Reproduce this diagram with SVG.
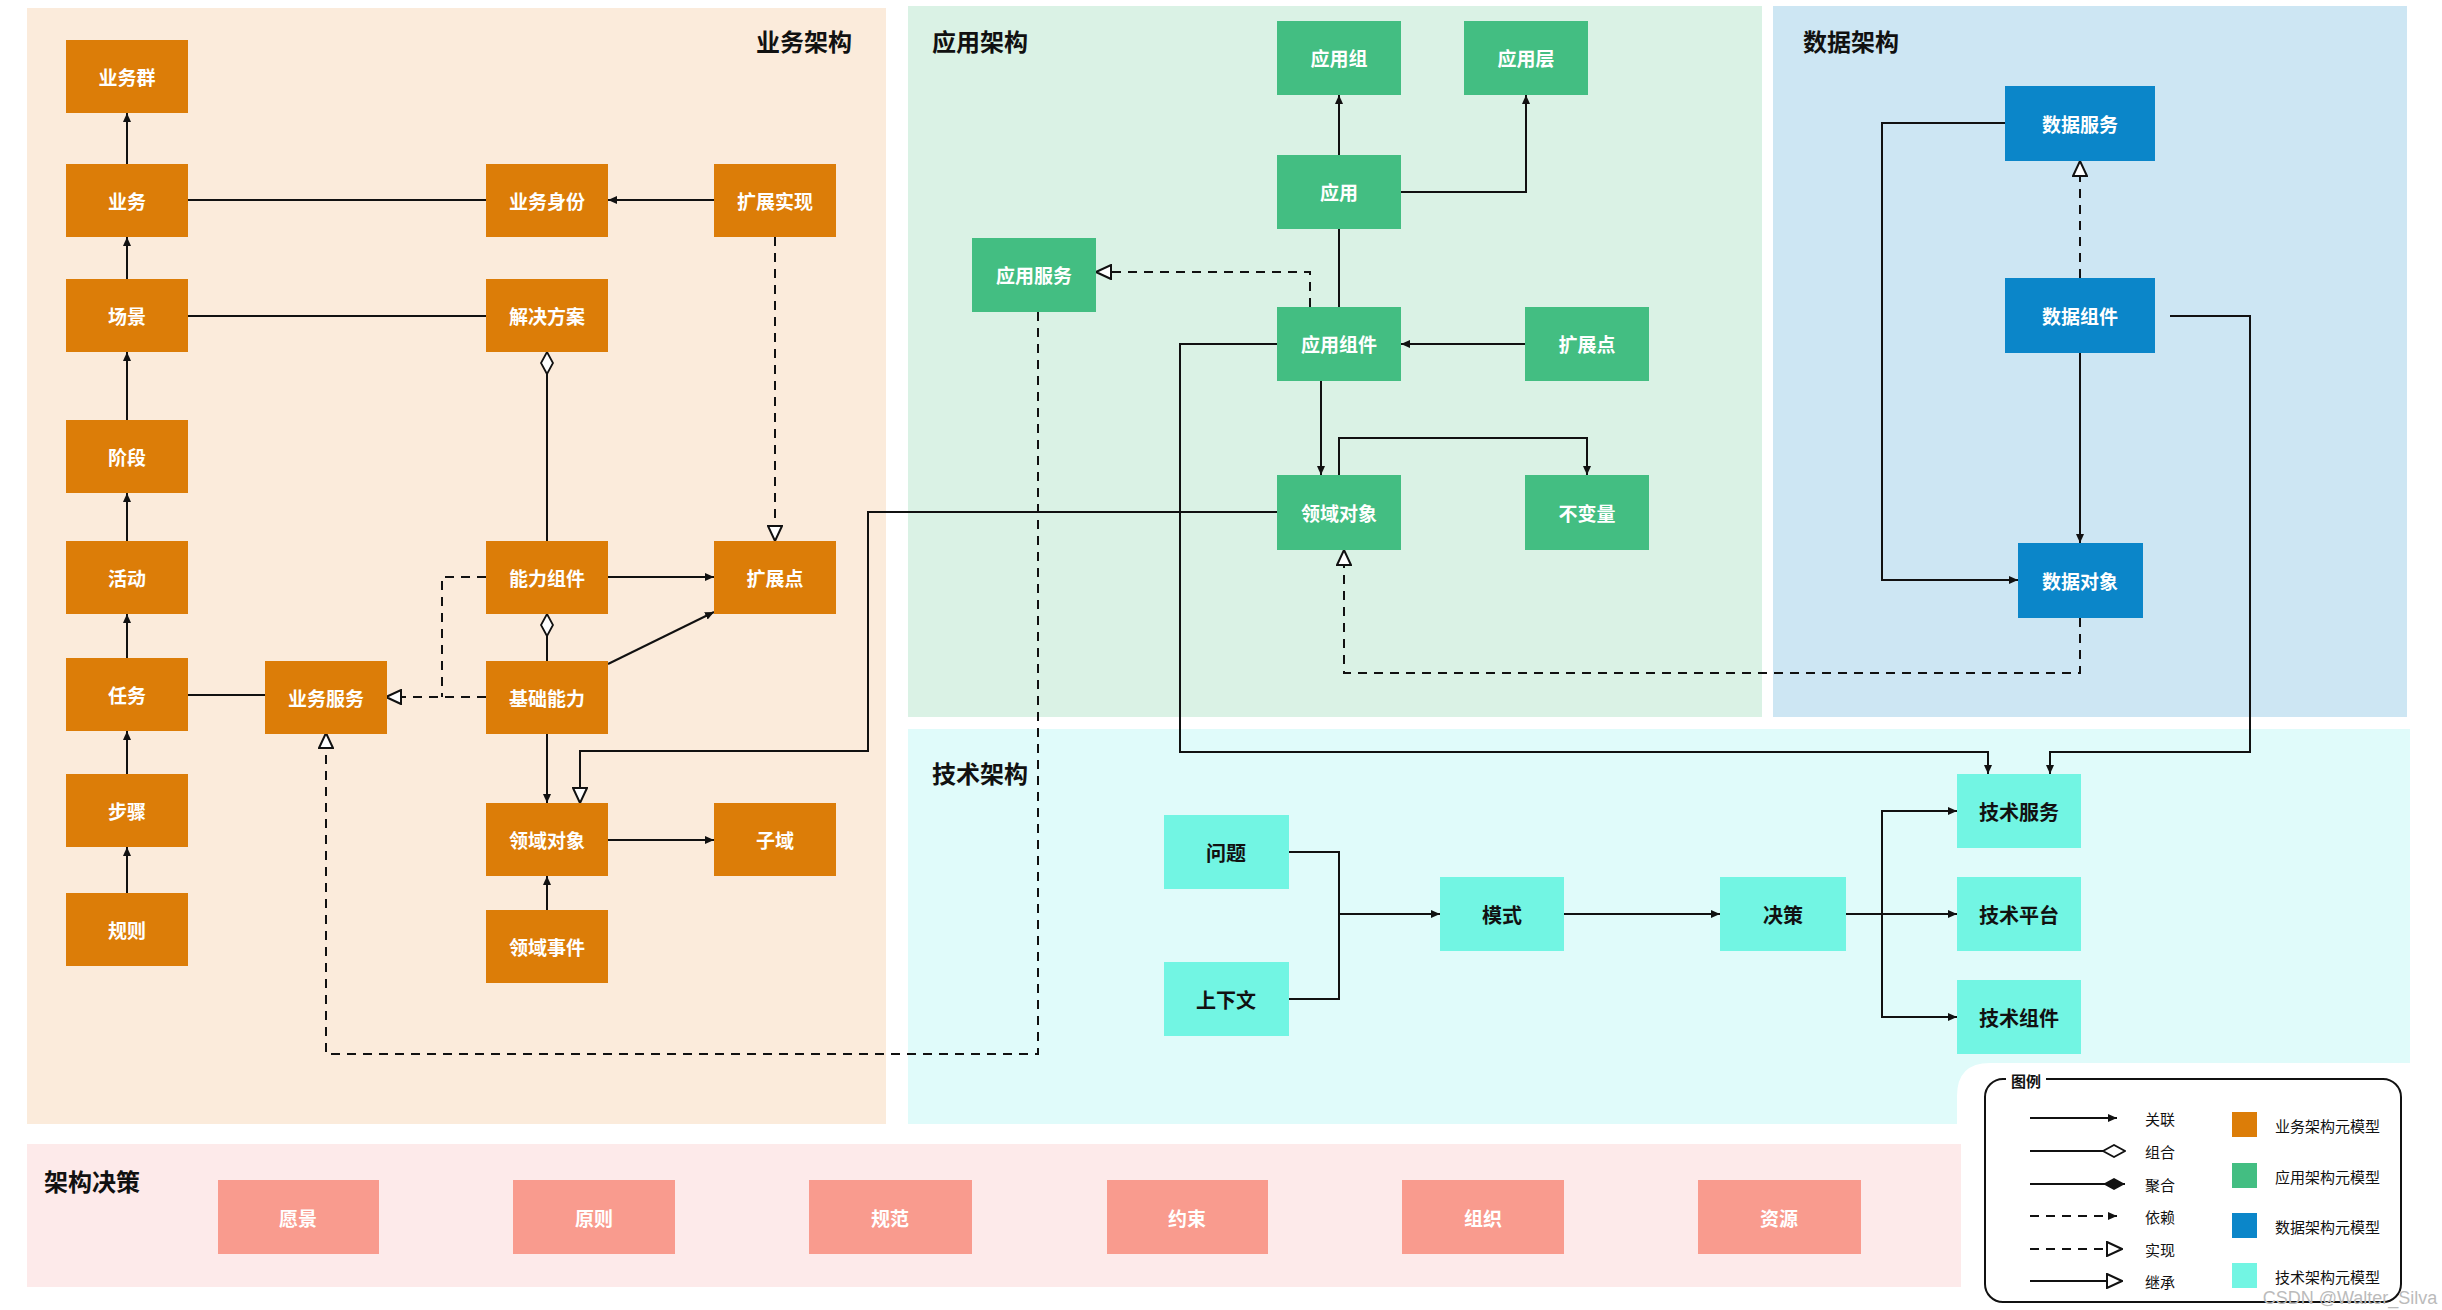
<svg xmlns="http://www.w3.org/2000/svg" width="2442" height="1310" viewBox="0 0 2442 1310">
<style>
text{font-family:"Noto Sans CJK SC","Liberation Sans",sans-serif;font-weight:bold;text-anchor:middle;dominant-baseline:central}
.b rect{fill:#dc7d08}.a rect{fill:#43be82}.d rect{fill:#0b86c9}.t rect{fill:#72f5e3}.j rect{fill:#f99b8e}
.b text,.a text,.d text,.j text{fill:#fff;font-size:19px}.t text{fill:#111;font-size:20px}
.title{font-size:24px;fill:#111;text-anchor:start}
#conn path,#conn line{fill:none;stroke:#111;stroke-width:2}
.dash{stroke-dasharray:9 7}
.lg{font-size:15px;font-weight:normal;fill:#111;text-anchor:start}
</style>
<defs>
<marker id="arr" markerUnits="userSpaceOnUse" markerWidth="10" markerHeight="8" refX="9" refY="4" orient="auto"><path d="M0,0 L9,4 L0,8 z" fill="#111"/></marker>
<marker id="tri" markerUnits="userSpaceOnUse" markerWidth="17" markerHeight="16" refX="16" refY="8" orient="auto"><path d="M1,1 L16,8 L1,15 z" fill="#fff" stroke="#111" stroke-width="2"/></marker>
<marker id="dia" markerUnits="userSpaceOnUse" markerWidth="24" markerHeight="14" refX="23" refY="7" orient="auto"><path d="M1,7 L12,1 L23,7 L12,13 z" fill="#fff" stroke="#111" stroke-width="1.8"/></marker>
<marker id="fdia" markerUnits="userSpaceOnUse" markerWidth="24" markerHeight="14" refX="23" refY="7" orient="auto"><path d="M1,7 L12,1 L23,7 L12,13 z" fill="#111"/></marker>
</defs>
<rect width="2442" height="1310" fill="#fff"/>
<rect x="27" y="8" width="859" height="1116" fill="#fbebdb"/>
<rect x="908" y="6" width="854" height="711" fill="#daf2e5"/>
<rect x="1773" y="6" width="634" height="711" fill="#cde6f3"/>
<path d="M908,729 H2410 V1063 H1990 Q1957,1063 1957,1096 V1124 H908 Z" fill="#e0fbfa"/>
<rect x="27" y="1144" width="1934" height="143" fill="#fdeaea"/>
<text class="title" x="756" y="40">业务架构</text>
<text class="title" x="932" y="40">应用架构</text>
<text class="title" x="1803" y="40">数据架构</text>
<text class="title" x="932" y="772">技术架构</text>
<text class="title" x="44" y="1180">架构决策</text>

<g id="conn">
<path d="M127,164 V113" marker-end="url(#arr)"/>
<path d="M127,279 V237" marker-end="url(#arr)"/>
<path d="M127,420 V352" marker-end="url(#arr)"/>
<path d="M127,541 V493" marker-end="url(#arr)"/>
<path d="M127,658 V614" marker-end="url(#arr)"/>
<path d="M127,774 V731" marker-end="url(#arr)"/>
<path d="M127,893 V847" marker-end="url(#arr)"/>
<path d="M188,200 H486"/>
<path d="M714,200 H608" marker-end="url(#arr)"/>
<path d="M188,316 H486"/>
<path d="M547,541 V352" marker-end="url(#dia)"/>
<path class="dash" d="M775,237 V541" marker-end="url(#tri)"/>
<path d="M608,577 H714" marker-end="url(#arr)"/>
<path d="M547,661 V614" marker-end="url(#dia)"/>
<path d="M608,664 L714,612" marker-end="url(#arr)"/>
<path class="dash" d="M486,697 H386" marker-end="url(#tri)"/>
<path class="dash" d="M486,577 H442 V697"/>
<path d="M188,695 H265"/>
<path d="M547,733 V803" marker-end="url(#arr)"/>
<path d="M714,840 H608" marker-end="url(#arr)" transform="rotate(180 661 840)"/>
<path d="M547,910 V876" marker-end="url(#arr)"/>
<path d="M1277,512 H868 V751 H580 V803" marker-end="url(#tri)"/>
<path class="dash" d="M1038,312 V1054 H326 V733" marker-end="url(#tri)"/>
<path d="M1339,155 V95" marker-end="url(#arr)"/>
<path d="M1401,192 H1526 V95" marker-end="url(#arr)"/>
<path d="M1339,307 V229"/>
<path class="dash" d="M1310,307 V272 H1096" marker-end="url(#tri)"/>
<path d="M1525,344 H1401" marker-end="url(#arr)"/>
<path d="M1321,381 V475" marker-end="url(#arr)"/>
<path d="M1339,475 V438 H1587 V475" marker-end="url(#arr)"/>
<path d="M1277,344 H1180 V752 H1988 V774" marker-end="url(#arr)"/>
<path class="dash" d="M2080,618 V673 H1344 V550" marker-end="url(#tri)"/>
<path class="dash" d="M2080,278 V161" marker-end="url(#tri)"/>
<path d="M2080,353 V543" marker-end="url(#arr)"/>
<path d="M2005,123 H1882 V580 H2018" marker-end="url(#arr)"/>
<path d="M2170,316 H2250 V752 H2050 V774" marker-end="url(#arr)"/>
<path d="M1289,852 H1339 V999 H1289"/>
<path d="M1339,914 H1440" marker-end="url(#arr)"/>
<path d="M1564,914 H1720" marker-end="url(#arr)"/>
<path d="M1846,914 H1957" marker-end="url(#arr)"/>
<path d="M1882,914 V811 H1957" marker-end="url(#arr)"/>
<path d="M1882,914 V1017 H1957" marker-end="url(#arr)"/>
</g>

<g class="b">
<g id="b1"><rect x="66" y="40" width="122" height="73"/><text x="127" y="76">业务群</text></g>
<g id="b2"><rect x="66" y="164" width="122" height="73"/><text x="127" y="200">业务</text></g>
<g id="b3"><rect x="66" y="279" width="122" height="73"/><text x="127" y="315">场景</text></g>
<g id="b4"><rect x="66" y="420" width="122" height="73"/><text x="127" y="456">阶段</text></g>
<g id="b5"><rect x="66" y="541" width="122" height="73"/><text x="127" y="577">活动</text></g>
<g id="b6"><rect x="66" y="658" width="122" height="73"/><text x="127" y="694">任务</text></g>
<g id="b7"><rect x="66" y="774" width="122" height="73"/><text x="127" y="810">步骤</text></g>
<g id="b8"><rect x="66" y="893" width="122" height="73"/><text x="127" y="929">规则</text></g>
<g id="b9"><rect x="486" y="164" width="122" height="73"/><text x="547" y="200">业务身份</text></g>
<g id="b10"><rect x="486" y="279" width="122" height="73"/><text x="547" y="315">解决方案</text></g>
<g id="b11"><rect x="486" y="541" width="122" height="73"/><text x="547" y="577">能力组件</text></g>
<g id="b12"><rect x="486" y="661" width="122" height="73"/><text x="547" y="697">基础能力</text></g>
<g id="b13"><rect x="486" y="803" width="122" height="73"/><text x="547" y="839">领域对象</text></g>
<g id="b14"><rect x="486" y="910" width="122" height="73"/><text x="547" y="946">领域事件</text></g>
<g id="b15"><rect x="714" y="164" width="122" height="73"/><text x="775" y="200">扩展实现</text></g>
<g id="b16"><rect x="714" y="541" width="122" height="73"/><text x="775" y="577">扩展点</text></g>
<g id="b17"><rect x="714" y="803" width="122" height="73"/><text x="775" y="839">子域</text></g>
<g id="b18"><rect x="265" y="661" width="122" height="73"/><text x="326" y="697">业务服务</text></g>
</g>
<g class="a">
<g id="a1"><rect x="1277" y="21" width="124" height="74"/><text x="1339" y="57">应用组</text></g>
<g id="a2"><rect x="1464" y="21" width="124" height="74"/><text x="1526" y="57">应用层</text></g>
<g id="a3"><rect x="1277" y="155" width="124" height="74"/><text x="1339" y="191">应用</text></g>
<g id="a4"><rect x="972" y="238" width="124" height="74"/><text x="1034" y="274">应用服务</text></g>
<g id="a5"><rect x="1277" y="307" width="124" height="74"/><text x="1339" y="343">应用组件</text></g>
<g id="a6"><rect x="1525" y="307" width="124" height="74"/><text x="1587" y="343">扩展点</text></g>
<g id="a7"><rect x="1277" y="475" width="124" height="75"/><text x="1339" y="512">领域对象</text></g>
<g id="a8"><rect x="1525" y="475" width="124" height="75"/><text x="1587" y="512">不变量</text></g>
</g>
<g class="d">
<g id="d1"><rect x="2005" y="86" width="150" height="75"/><text x="2080" y="123">数据服务</text></g>
<g id="d2"><rect x="2005" y="278" width="150" height="75"/><text x="2080" y="315">数据组件</text></g>
<g id="d3"><rect x="2018" y="543" width="125" height="75"/><text x="2080" y="580">数据对象</text></g>
</g>
<g class="t">
<g id="t1"><rect x="1164" y="815" width="125" height="74"/><text x="1226" y="852">问题</text></g>
<g id="t2"><rect x="1164" y="962" width="125" height="74"/><text x="1226" y="999">上下文</text></g>
<g id="t3"><rect x="1440" y="877" width="124" height="74"/><text x="1502" y="914">模式</text></g>
<g id="t4"><rect x="1720" y="877" width="126" height="74"/><text x="1783" y="914">决策</text></g>
<g id="t5"><rect x="1957" y="774" width="124" height="74"/><text x="2019" y="811">技术服务</text></g>
<g id="t6"><rect x="1957" y="877" width="124" height="74"/><text x="2019" y="914">技术平台</text></g>
<g id="t7"><rect x="1957" y="980" width="124" height="74"/><text x="2019" y="1017">技术组件</text></g>
</g>
<g class="j">
<g id="j1"><rect x="218" y="1180" width="161" height="74"/><text x="298" y="1217">愿景</text></g>
<g id="j2"><rect x="513" y="1180" width="162" height="74"/><text x="594" y="1217">原则</text></g>
<g id="j3"><rect x="809" y="1180" width="163" height="74"/><text x="890" y="1217">规范</text></g>
<g id="j4"><rect x="1107" y="1180" width="161" height="74"/><text x="1187" y="1217">约束</text></g>
<g id="j5"><rect x="1402" y="1180" width="162" height="74"/><text x="1483" y="1217">组织</text></g>
<g id="j6"><rect x="1698" y="1180" width="163" height="74"/><text x="1779" y="1217">资源</text></g>
</g>

<g id="legend">
<rect x="1985" y="1079" width="416" height="223" rx="18" fill="#fff" stroke="#111" stroke-width="2"/>
<rect x="2006" y="1070" width="40" height="18" fill="#fff"/>
<text x="2026" y="1080" style="font-size:15px;fill:#111">图例</text>
<g style="stroke:#111;stroke-width:2;fill:none">
<path d="M2030,1118 H2117" marker-end="url(#arr)"/>
<path d="M2030,1151 H2125" marker-end="url(#dia)"/>
<path d="M2030,1184 H2125" marker-end="url(#fdia)"/>
<path d="M2030,1216 H2117" stroke-dasharray="9 7" marker-end="url(#arr)"/>
<path d="M2030,1249 H2122" stroke-dasharray="9 7" marker-end="url(#tri)"/>
<path d="M2030,1281 H2122" marker-end="url(#tri)"/>
</g>
<text class="lg" x="2145" y="1118">关联</text>
<text class="lg" x="2145" y="1151">组合</text>
<text class="lg" x="2145" y="1184">聚合</text>
<text class="lg" x="2145" y="1216">依赖</text>
<text class="lg" x="2145" y="1249">实现</text>
<text class="lg" x="2145" y="1281">继承</text>
<rect x="2232" y="1112" width="25" height="25" fill="#dc7d08"/>
<rect x="2232" y="1163" width="25" height="25" fill="#43be82"/>
<rect x="2232" y="1213" width="25" height="25" fill="#0b86c9"/>
<rect x="2232" y="1263" width="25" height="25" fill="#72f5e3"/>
<text class="lg" x="2275" y="1125">业务架构元模型</text>
<text class="lg" x="2275" y="1176">应用架构元模型</text>
<text class="lg" x="2275" y="1226">数据架构元模型</text>
<text class="lg" x="2275" y="1276">技术架构元模型</text>
</g>
<text x="2350" y="1298" style="font-family:'Liberation Sans',sans-serif;font-weight:normal;font-size:18px;fill:#bbb">CSDN @Walter_Silva</text>
</svg>
